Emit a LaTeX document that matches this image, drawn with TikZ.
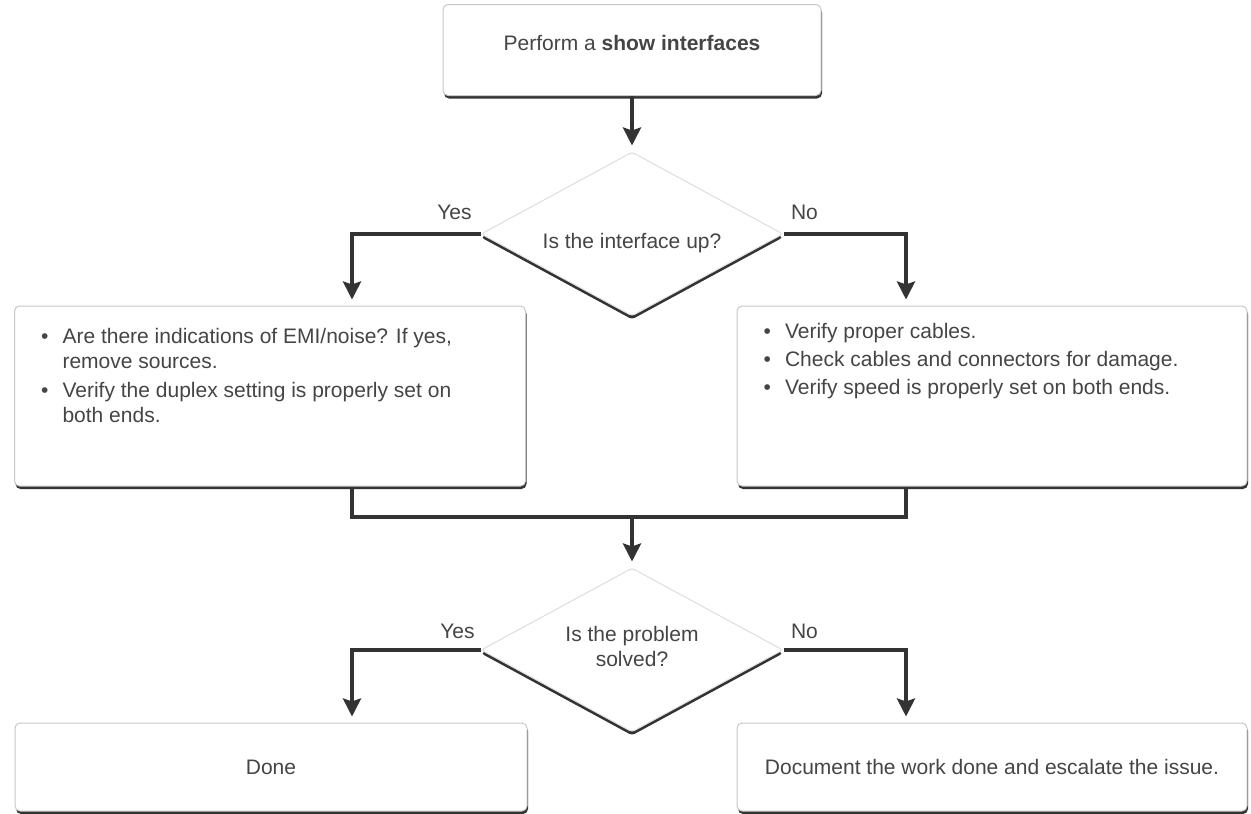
\documentclass[tikz,border=0pt]{standalone}
\usepackage{fontspec}
\setmainfont{Liberation Sans}
\usepackage{xcolor}
\usetikzlibrary{arrows.meta,shapes.geometric,shadows}
\definecolor{fcInk}{HTML}{454545}
\definecolor{fcLine}{HTML}{333333}
\definecolor{fcEdge}{HTML}{C8C8C8}
\tikzset{
  fc diagram/.style={font=\fontsize{21}{25}\selectfont, text=fcInk,
    line cap=butt, line join=miter},
  fc box/.style={draw=fcEdge, fill=white, line width=1pt,
    rounded corners=5pt, inner sep=0pt,
    drop shadow={shadow xshift=1pt, shadow yshift=-3pt, fill=fcLine, opacity=1}},
  fc diamond/.style={diamond, draw=fcEdge!60, fill=white, line width=1pt,
    rounded corners=3pt, inner sep=0pt, align=center,
    minimum width=302pt, minimum height=164pt,
    drop shadow={shadow xshift=0pt, shadow yshift=-3.5pt, fill=fcLine, opacity=1}},
  fc line/.style={draw=fcLine, line width=4pt},
  fc arrow/.style={fc line, -{Stealth[length=18pt,width=18pt,inset=3pt]},
    shorten >=6pt},
  fc text/.style={inner sep=0pt, align=left},
  fc label/.style={inner sep=0pt}
}

\begin{document}
\begin{tikzpicture}[fc diagram,x=1pt,y=-1pt]
\useasboundingbox[fill=white] (0,0) rectangle (1251,814);
% boxes and decisions
\node[fc box, minimum width=378pt, minimum height=91pt] (show) at (632,50) {};
\node[fc text] at ([yshift=7pt]show.center) {Perform a \textbf{show interfaces}};
\node[fc diamond] (dia1) at (632,234) {};
\node[fc text] at ([yshift=-9pt]dia1.center) {Is the interface up?};
\node[fc box, minimum width=511pt, minimum height=180pt] (lbox) at (270,396) {};
\node[fc text, anchor=base west] at ([xshift=27pt,yshift=-38pt]lbox.north west)
  {\begin{tabular}[t]{@{}l@{\hspace{14pt}}l@{}}
   \textbullet & Are there indications of EMI/noise? If yes,\\
               & remove sources.\\[4pt]
   \textbullet & Verify the duplex setting is properly set on\\
               & both ends.
   \end{tabular}};
\node[fc box, minimum width=510pt, minimum height=180pt] (rbox) at (992,396) {};
\node[fc text, anchor=base west] at ([xshift=27pt,yshift=-33pt]rbox.north west)
  {\begin{tabular}[t]{@{}l@{\hspace{14pt}}l@{}}
   \textbullet & Verify proper cables.\\[3pt]
   \textbullet & Check cables and connectors for damage.\\[3pt]
   \textbullet & Verify speed is properly set on both ends.
   \end{tabular}};
\coordinate (merge) at (632,517);
\node[fc diamond] (dia2) at (632,650) {};
\node[fc text, align=center] at ([yshift=4pt]dia2.center) {Is the problem\\solved?};
\node[fc box, minimum width=512pt, minimum height=88pt] (done) at (271,767) {Done};
\node[fc box, minimum width=510pt, minimum height=88pt] (escalate) at (992,767)
  {Document the work done and escalate the issue.};
% connectors
\draw[fc arrow] (show) -- (dia1);
\draw[fc arrow] (dia1.west) -| ([xshift=82pt]lbox.north);
\draw[fc arrow] (dia1.east) -| ([xshift=-86pt]rbox.north);
\draw[fc line] ([xshift=82pt]lbox.south) |- (merge) -| ([xshift=-86pt]rbox.south);
\draw[fc arrow] (merge) -- (dia2);
\draw[fc arrow] (dia2.west) -| ([xshift=81pt]done.north);
\draw[fc arrow] (dia2.east) -| ([xshift=-86pt]escalate.north);
\node[fc label] at ([xshift=-26pt,yshift=22pt]dia1.west) {Yes};
\node[fc label] at ([xshift=21pt,yshift=22pt]dia1.east) {No};
\node[fc label] at ([xshift=-23pt,yshift=19pt]dia2.west) {Yes};
\node[fc label] at ([xshift=21pt,yshift=19pt]dia2.east) {No};
\end{tikzpicture}
\end{document}
